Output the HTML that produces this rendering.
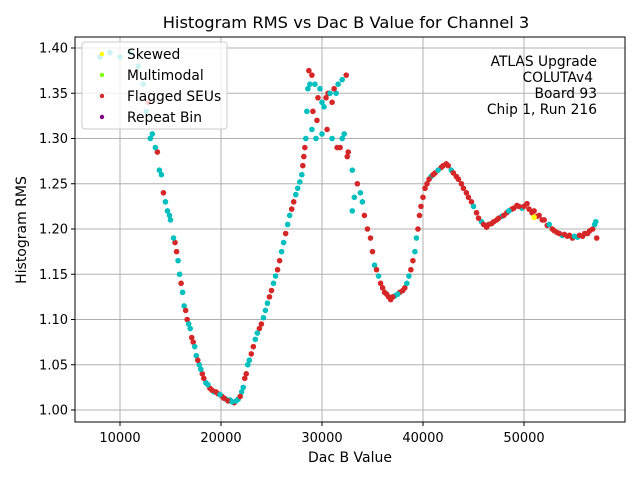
<!DOCTYPE html>
<html><head><meta charset="utf-8"><style>
body{margin:0;background:#fff}
svg{display:block;font-family:"DejaVu Sans","Liberation Sans",sans-serif}
</style></head><body>
<svg id="chart" width="640" height="480" viewBox="0 0 640 480">
<rect width="640" height="480" fill="#fff"/>
<text x="346" y="28" text-anchor="middle" font-size="16.3">Histogram RMS vs Dac B Value for Channel 3</text>
<g id="grid"></g>
<g id="points"></g>
<rect x="75" y="37" width="550" height="385" fill="none" stroke="#000" stroke-width="1"/>
<g id="ticks"></g>
<text x="350" y="462" text-anchor="middle" font-size="14">Dac B Value</text>
<text transform="translate(26,230) rotate(-90)" text-anchor="middle" font-size="14">Histogram RMS</text>
<g>
<rect x="82" y="42" width="145" height="87" rx="3" fill="#fff" fill-opacity="0.8" stroke="#ccc"/>
<circle cx="102" cy="54" r="2.2" fill="#ffff00"/><text x="127" y="59" font-size="13.8">Skewed</text>
<circle cx="102" cy="75" r="2.2" fill="#7fff00"/><text x="127" y="80" font-size="13.8">Multimodal</text>
<circle cx="102" cy="96" r="2.2" fill="#d62728"/><text x="127" y="101" font-size="13.8">Flagged SEUs</text>
<circle cx="102" cy="117" r="2.2" fill="#800080"/><text x="127" y="122" font-size="13.8">Repeat Bin</text>
</g>
<g font-size="13.8" text-anchor="end">
<text x="597" y="66">ATLAS Upgrade</text>
<text x="593" y="82">COLUTAv4</text>
<text x="597" y="98">Board 93</text>
<text x="597" y="114">Chip 1, Run 216</text>
</g>
</svg>
<script>
const xTicks=[10000,20000,30000,40000,50000];
const yTicks=[1.00,1.05,1.10,1.15,1.20,1.25,1.30,1.35,1.40];
const dacValues=[8000,9000,10000,11000,11800,12300,12800,13000,13500,13900,14300,14700,15000,15300,15600,15900,16200,16500,16800,17100,17400,17700,18000,18300,18700,19100,19500,19900,20300,20700,21100,21500,21900,22200,22500,22800,23200,23600,24000,24400,24800,25200,25600,26000,26400,26800,27200,27600,28000,28200,28400,28500,28600,28700,29000,29300,29600,30000,30400,30800,31200,31600,32000,32400,
29000,29500,30000,30500,31000,31500,32000,32500,33000,33500,34000,34500,35000,35400,35800,36200,36600,37000,37500,38000,38400,38800,39200,39500,39800,40200,40600,41000,41500,42000,42500,43000,43500,44000,44500,45000,45500,46000,46500,47000,47500,48000,48500,49000,49500,50000,50500,51000,51500,52000,52500,53000,53500,54000,54500,55000,55500,56000,56500,57000,57200,33000,51000];
const rmsValues=[1.39,1.395,1.39,1.395,1.38,1.36,1.34,1.30,1.29,1.265,1.24,1.22,1.21,1.19,1.175,1.15,1.13,1.11,1.095,1.08,1.07,1.055,1.045,1.035,1.028,1.022,1.02,1.017,1.013,1.01,1.009,1.01,1.015,1.025,1.04,1.055,1.07,1.085,1.095,1.11,1.125,1.14,1.155,1.175,1.195,1.215,1.23,1.245,1.26,1.28,1.30,1.33,1.355,1.375,1.37,1.36,1.345,1.34,1.345,1.35,1.355,1.36,1.365,1.37,
1.31,1.32,1.305,1.31,1.30,1.29,1.30,1.28,1.265,1.25,1.23,1.20,1.175,1.155,1.14,1.13,1.125,1.125,1.128,1.132,1.14,1.155,1.175,1.20,1.225,1.245,1.255,1.26,1.265,1.27,1.27,1.262,1.255,1.245,1.235,1.225,1.212,1.205,1.205,1.208,1.212,1.215,1.22,1.223,1.225,1.225,1.222,1.22,1.215,1.21,1.205,1.198,1.195,1.194,1.193,1.192,1.193,1.195,1.198,1.205,1.19,1.22,1.213];
const pointKinds="ccccccrcccrcccrccrcrcrcrcrrcrrccrcrcrcrcrcrcrcrccrcccrrcrcrcrc"+"crcrcrcrcrcrcrrrrrrrcrcrcrrrrrcrrrrrrcrrrrrrcrrrrrrrcrrrrcrrrcrcyy";
const extraDac=[12600,13200,13700,14100,14500,14900,15450,15750,16050,16350,16650,16950,17250,17550,17850,18150,18500,18900,19300,19700,20100,20500,20900,21300,21700,22050,22350,22650,23000,23400,23800,24200,24600,25000,25400,25800,26200,26600,27000,27400,27800,28100,28300,28800,29100,29400,29800,30200,30600,31000,31400,31800,32200,32600,33200,33800,34200,34800,35200,35600,36000,36400,36800,37200,37700,38200,38600,39000,39350,39650,40000,40400,40800,41200,41800,42300,42800,43300,43800,44300,44800,45300,45800,46300,46800,47300,47800,48300,48800,49300,49800,50300,50800,51300,51800,52300,52800,53300,53800,54300,54800,55300,55800,56300,56800,57100];
const extraRms=[1.33,1.305,1.285,1.26,1.23,1.215,1.185,1.165,1.14,1.115,1.10,1.09,1.075,1.06,1.05,1.04,1.03,1.024,1.02,1.018,1.015,1.012,1.011,1.008,1.012,1.02,1.035,1.05,1.062,1.078,1.09,1.102,1.118,1.132,1.148,1.165,1.185,1.205,1.222,1.238,1.252,1.27,1.29,1.36,1.33,1.30,1.355,1.335,1.35,1.34,1.35,1.29,1.305,1.285,1.235,1.24,1.215,1.19,1.16,1.148,1.135,1.128,1.122,1.126,1.13,1.135,1.148,1.165,1.19,1.215,1.235,1.25,1.258,1.262,1.268,1.272,1.265,1.258,1.25,1.24,1.23,1.218,1.208,1.202,1.206,1.21,1.214,1.218,1.222,1.226,1.223,1.228,1.218,1.214,1.21,1.204,1.2,1.196,1.193,1.192,1.19,1.191,1.192,1.195,1.2,1.208];
const extraKinds="ccrcccrcrcrcrccrcrcrrccrccrcrcrccrcrccrccrrcrcccrrcrcrccrrccrrrcrrcrcrrrcrrrcrrrrrcrrrcrrrcrrrrrrrcrrcrrr";
const X=v=>19+(v/10000)*101;
const Y=v=>410-(v-1.0)/0.05*45.25;
const NS="http://www.w3.org/2000/svg";
const grid=document.getElementById('grid'),ticks=document.getElementById('ticks'),pts=document.getElementById('points');
function mk(tag,attrs,parent){const e=document.createElementNS(NS,tag);for(const k in attrs)e.setAttribute(k,attrs[k]);parent.appendChild(e);return e;}
xTicks.forEach(t=>{
 const x=X(t);
 const g=mk('line',{x1:x,x2:x,y1:37,y2:422,stroke:'#b0b0b0','stroke-width':1},grid);
 
 
 const tk=mk('line',{x1:x,x2:x,y1:422,y2:426,stroke:'#000'},ticks);
 
 
 const lb=mk('text',{x:x,y:442,'text-anchor':'middle','font-size':13},ticks);
 lb.textContent=t;
 
 
});
yTicks.forEach(t=>{
 const y=Y(t);
 const g=mk('line',{x1:75,x2:625,y1:y,y2:y,stroke:'#b0b0b0','stroke-width':1},grid);
 
 
 const tk=mk('line',{x1:71,x2:75,y1:y,y2:y,stroke:'#000'},ticks);
 
 
 const lb=mk('text',{x:68,y:y+4.5,'text-anchor':'end','font-size':13},ticks);
 lb.textContent=t.toFixed(2);
 
 
});
const colors={c:'#00bfbf',r:'#d62728',y:'#ffff00'};
extraDac.forEach((d,i)=>{
 const k=extraKinds[i]||'c';
 const c=mk('circle',{cx:X(d),cy:Y(extraRms[i]),r:2.8,fill:colors[k]},pts);
 
 
});
dacValues.forEach((d,i)=>{
 const k=pointKinds[i]||'c';
 const c=mk('circle',{cx:X(d),cy:Y(rmsValues[i]),r:2.8,fill:colors[k]},pts);
 
 
});
</script>
</body></html>
